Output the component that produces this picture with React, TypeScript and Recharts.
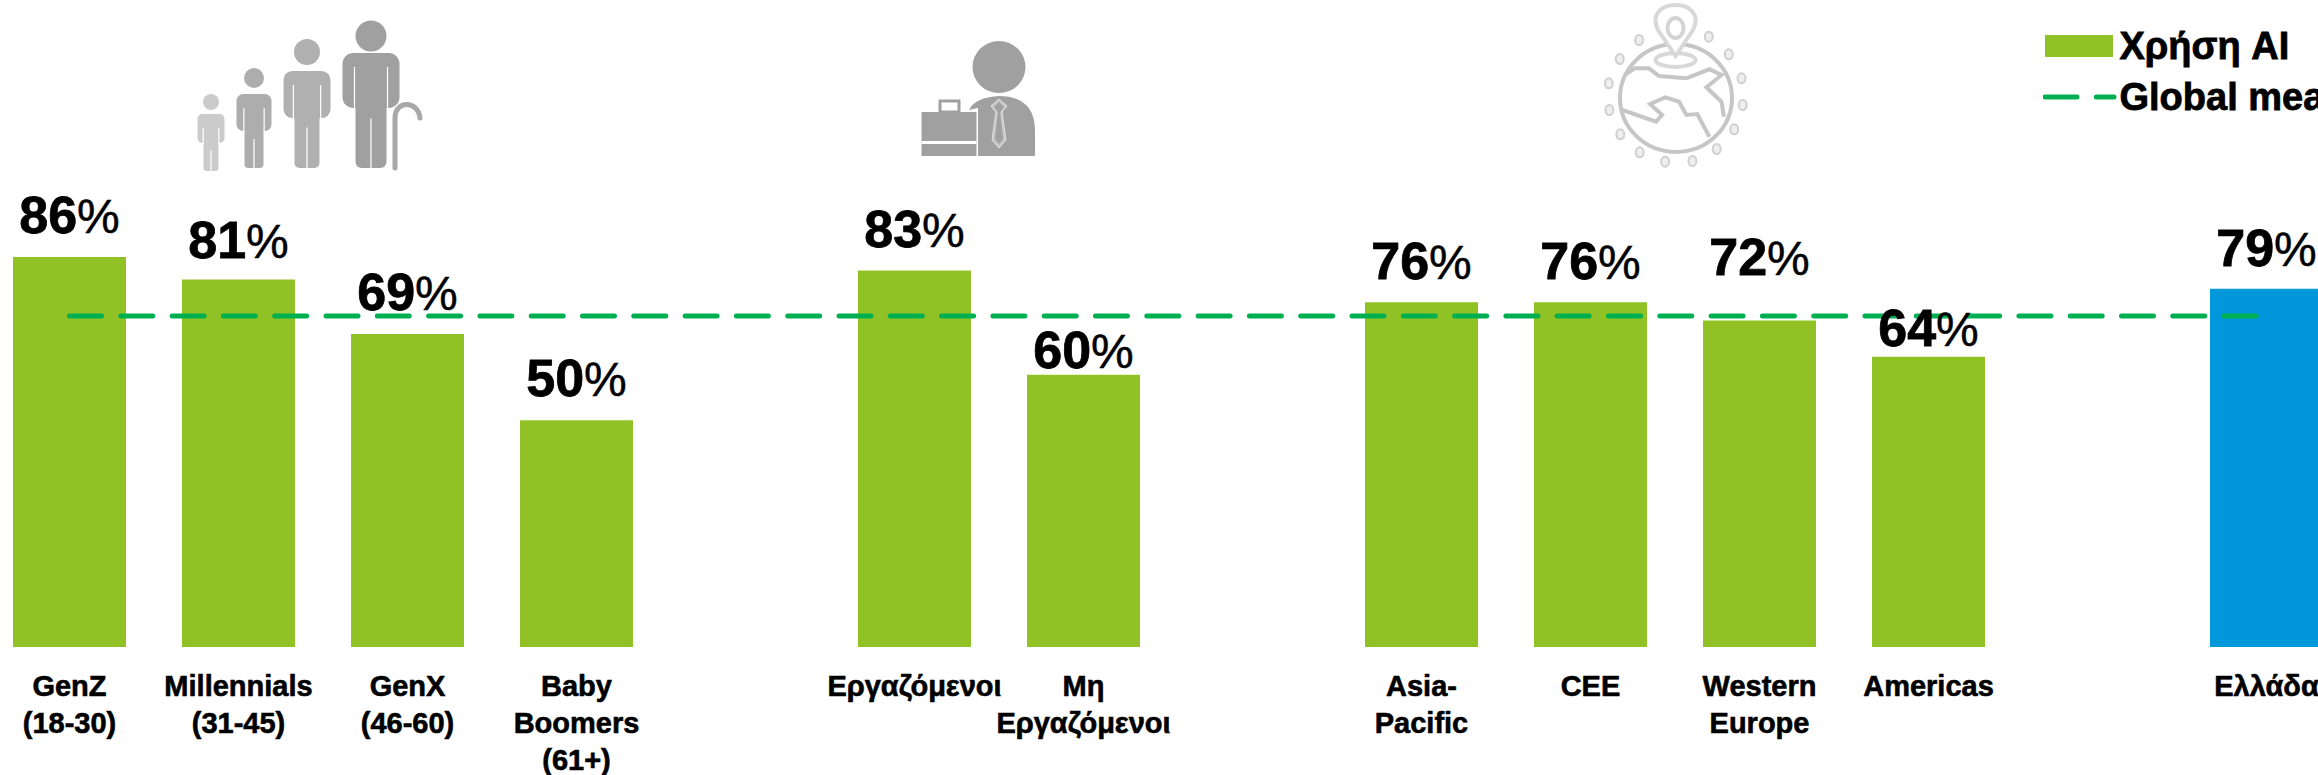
import React from 'react';
import { ComposedChart, Bar, Line, XAxis, YAxis, Cell, LabelList, Legend } from 'recharts';

// empty strings are the spacer slots between the groups
const categories = [
  'GenZ\n(18-30)', 'Millennials\n(31-45)', 'GenX\n(46-60)', 'Baby\nBoomers\n(61+)', '',
  'Εργαζόμενοι', 'Μη\nΕργαζόμενοι', '',
  'Asia-\nPacific', 'CEE', 'Western\nEurope', 'Americas', '',
  'Ελλάδα',
];
const usage = [86, 81, 69, 50, null, 83, 60, null, 76, 76, 72, 64, null, 79];
const globalMean = [73, 73, 73, 73, 73, 73, 73, 73, 73, 73, 73, 73, 73, 73];
const usageName = 'Χρήση AI';
const meanName = 'Global mean';

// the value labels were placed by hand in the original, px above the bar top.
// one entry per drawn bar: LabelList skips the spacer slots when it counts
const labelLift = [24, 22, 24, 24, 24, 7, 23, 23, 45, 11, 23];

const GREEN = '#90C226';
const BLUE = '#0098DB';
const LINE = '#00B050';
const SANS = '"Liberation Sans", Arial, sans-serif';

const data = categories.map((name, i) => ({ slot: i, name, usage: usage[i], mean: globalMean[i] }));

function ValueLabel(props: any) {
  const { x, y, width, value, index } = props;
  if (value == null) return null;
  return (
    <text x={x + width / 2} y={y - labelLift[index]} textAnchor="middle" fill="#000">
      <tspan fontFamily={SANS} fontWeight="bold" fontSize={52} stroke="#000" strokeWidth={0.8}>{value}</tspan>
      <tspan fontFamily='"Liberation Sans Narrow", "Liberation Sans", sans-serif' fontSize={48} stroke="#000" strokeWidth={0.5}>%</tspan>
    </text>
  );
}

function CategoryTick(props: any) {
  const { x, y, payload } = props;
  const lines = categories[payload.index].split('\n');
  return (
    <text x={x} y={y + 49} textAnchor="middle" fontFamily={SANS} fontWeight="bold" fontSize={29} fill="#000" stroke="#000" strokeWidth={0.6}>
      {lines.map((line, i) => (
        <tspan key={i} x={x} dy={i === 0 ? 0 : 37}>{line}</tspan>
      ))}
    </text>
  );
}

function ChartLegend() {
  const rowText = {
    fontFamily: SANS, fontWeight: 'bold', fontSize: 38, color: '#000', lineHeight: '49px',
    WebkitTextStroke: '0.8px #000',
  } as const;
  return (
    <div style={{ whiteSpace: 'nowrap' }}>
      <div style={{ display: 'flex', alignItems: 'center', height: 49 }}>
        <svg width={77} height={49} style={{ display: 'block' }}>
          <rect x={2} y={13} width={68} height={22} fill={GREEN} />
        </svg>
        <span style={rowText}>{usageName}</span>
      </div>
      <div style={{ display: 'flex', alignItems: 'center', height: 49, marginTop: 2 }}>
        <svg width={77} height={49} style={{ display: 'block' }}>
          <line x1={2} x2={71} y1={24} y2={24} stroke={LINE} strokeWidth={5} strokeLinecap="round" strokeDasharray="32 19.3" />
        </svg>
        <span style={rowText}>{meanName}</span>
      </div>
    </div>
  );
}

function Person({ cx, headY, headR, top, halfW, armEnd, halfLeg, foot, color }: any) {
  const armW = halfW * 0.42;
  return (
    <g fill={color}>
      <ellipse cx={cx} cy={headY} rx={headR} ry={headR} />
      <rect x={cx - halfW} y={top} width={halfW * 2} height={armEnd - top} rx={armW * 0.9} />
      <rect x={cx - halfLeg} y={top + 5} width={halfLeg * 2} height={foot - top - 5} rx={halfLeg * 0.4} />
      <g stroke="#fff" strokeWidth={1.2}>
        <line x1={cx - halfW + armW} x2={cx - halfW + armW} y1={top + 14} y2={armEnd + 1} />
        <line x1={cx + halfW - armW} x2={cx + halfW - armW} y1={top + 14} y2={armEnd + 1} />
        <line x1={cx} x2={cx} y1={(top + foot) / 2 + 8} y2={foot + 1} />
      </g>
    </g>
  );
}

function PeopleIcon() {
  return (
    <g>
      <Person cx={211} headY={102} headR={8} top={114} halfW={13.5} armEnd={143} halfLeg={7.5} foot={171} color="#CBCBCB" />
      <Person cx={254} headY={78} headR={10} top={94} halfW={17.5} armEnd={131} halfLeg={9.5} foot={168} color="#ADADAD" />
      <Person cx={307} headY={52} headR={13} top={71} halfW={23.5} armEnd={118} halfLeg={12.5} foot={168} color="#B0B0B0" />
      <Person cx={371} headY={36} headR={15.5} top={53} halfW={28.5} armEnd={108} halfLeg={15.5} foot={168} color="#A0A0A0" />
      <path d="M395 168 V118 C395 100 418 100 420 118" fill="none" stroke="#A8A8A8" strokeWidth={5} strokeLinecap="round" />
    </g>
  );
}

function WorkerIcon() {
  return (
    <g fill="#A0A0A0">
      <ellipse cx={999} cy={67} rx={26.5} ry={26} />
      <path d="M969 110 C974 100 985 97 999 96 C1018 96 1035 104 1035 130 V156 H978 V108 Z" />
      <rect x={921.5} y={112} width={55} height={44} />
      <rect x={940} y={101} width={19} height={11} fill="none" stroke="#A0A0A0" strokeWidth={3} />
      <rect x={921.5} y={141} width={55} height={3} fill="#fff" />
      <path d="M999 99 L991 106 L996 112 L992 140 L999 148 L1006 140 L1002 112 L1007 106 Z" fill="#C4C4C4" stroke="#E4E4E4" strokeWidth={1} />
      <path d="M999 102 L994 107 L998 112 L995 139 L999 144 L1003 139 L1000 112 L1004 107 Z" fill="#A0A0A0" />
    </g>
  );
}

// coordinates below were measured on a 1.65x / 3x crop, so keep them in that space
const gx = (x: number) => x / 1.65 + 850;
const gy = (y: number) => y / 3;
const toPts = (pts: number[][]) => pts.map(([x, y]) => `${gx(x).toFixed(1)},${gy(y).toFixed(1)}`).join(' ');
const globeDots = [
  [1302, 120], [1270, 177], [1252, 250], [1253, 330], [1271, 403], [1303, 457], [1345, 485],
  [1390, 483], [1430, 447], [1459, 388], [1473, 315], [1471, 235], [1450, 163], [1417, 110],
];
const landTop = [[1278, 225], [1295, 205], [1318, 205], [1335, 228], [1380, 235], [1418, 208], [1438, 225], [1413, 262], [1438, 305], [1442, 350]];
const landMid = [[1272, 328], [1298, 345], [1330, 365], [1340, 345], [1320, 312], [1345, 292], [1368, 305], [1380, 345], [1398, 342], [1418, 410]];

function GlobeIcon() {
  return (
    <g fill="none" stroke="#C6C6C6" strokeWidth={4}>
      <ellipse cx={1676} cy={98} rx={56} ry={54} />
      <polyline points={toPts(landTop)} />
      <polyline points={toPts(landMid)} />
      {globeDots.map(([x, y], i) => (
        <ellipse key={i} cx={gx(x)} cy={gy(y)} rx={4} ry={5} stroke="#D0D0D0" strokeWidth={2} fill="#EEE" />
      ))}
      <ellipse cx={1675.5} cy={60} rx={20} ry={7} stroke="#D8D8D8" fill="#fff" />
      <path d="M1675.5 56 L1658 30 C1650 14 1662 5 1675.5 5 C1689 5 1701 14 1693 30 Z" stroke="#D8D8D8" fill="#fff" />
      <ellipse cx={1675.5} cy={28} rx={8} ry={10} stroke="#D4D4D4" />
    </g>
  );
}

export default function App() {
  return (
    <div style={{ position: 'fixed', inset: 0, overflow: 'hidden', background: '#fff' }}>
      <svg width={2318} height={200} style={{ position: 'absolute', left: 0, top: 0 }}>
        <PeopleIcon />
        <WorkerIcon />
        <GlobeIcon />
      </svg>
      <div style={{ position: 'absolute', left: -15.5, top: 0 }}>
        <ComposedChart width={2366} height={775} data={data} margin={{ top: 12, right: 0, bottom: 0, left: 0 }}>
          <XAxis
            dataKey="slot"
            height={128}
            interval={0}
            axisLine={false}
            tickLine={false}
            tickSize={0}
            tickMargin={0}
            tick={<CategoryTick />}
          />
          <YAxis hide domain={[0, 140]} />
          <Legend
            layout="horizontal"
            align="center"
            verticalAlign="middle"
            content={<ChartLegend />}
            wrapperStyle={{ left: 2058, top: 22, width: 400 }}
          />
          <Bar dataKey="usage" name={usageName} barSize={113} fill={GREEN} isAnimationActive={false}>
            {data.map((d) => (
              <Cell key={d.slot} fill={d.name === 'Ελλάδα' ? BLUE : GREEN} />
            ))}
            <LabelList dataKey="usage" content={<ValueLabel />} />
          </Bar>
          <Line
            dataKey="mean"
            name={meanName}
            stroke={LINE}
            strokeWidth={5}
            strokeLinecap="round"
            strokeDasharray="32 19.3"
            dot={false}
            activeDot={false}
            isAnimationActive={false}
          />
        </ComposedChart>
      </div>
    </div>
  );
}
